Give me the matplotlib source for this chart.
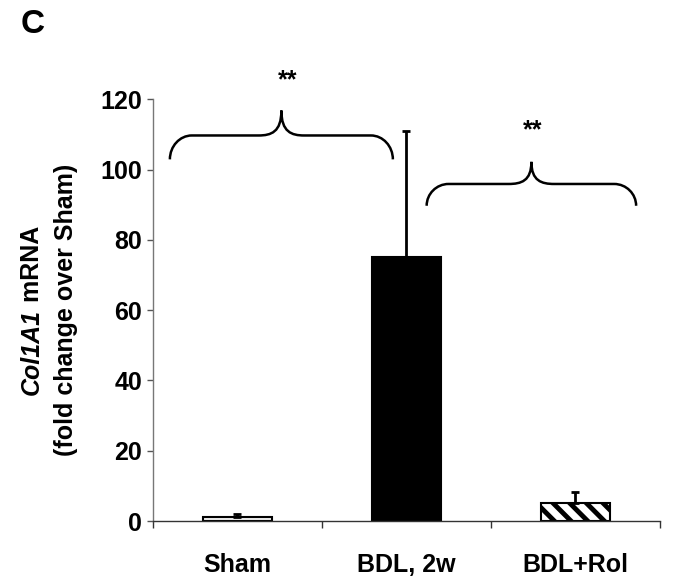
import matplotlib
matplotlib.use("Agg")
import matplotlib.pyplot as plt
from matplotlib.path import Path
from matplotlib.patches import PathPatch
import numpy as np

categories = ["Sham", "BDL, 2w", "BDL+Rol"]
values = [1.2, 75.0, 5.2]
errors = [0.7, 36.0, 3.0]
yticks = [0, 20, 40, 60, 80, 100, 120]
star_labels = ["**", "**"]

plt.rcParams['font.family'] = ['Liberation Sans', 'DejaVu Sans']
plt.rcParams['font.weight'] = 'bold'
plt.rcParams['hatch.linewidth'] = 3.5

FS = 18

fig = plt.figure(figsize=(6.83, 5.85), dpi=100)
ax = fig.add_axes([0.224, 0.1094, 0.742, 0.7209])

x = np.arange(len(categories))
fills = ['#f0f0f0', 'black', 'white']
hatches = [None, None, '\\\\']
for i in range(len(categories)):
    ax.bar(x[i], values[i], width=0.405, color=fills[i], edgecolor='black',
           linewidth=1.5, hatch=hatches[i], zorder=2)
    ax.errorbar(x[i], values[i], yerr=[[0], [errors[i]]], fmt='none',
                ecolor='black', elinewidth=2, capsize=3, capthick=2, zorder=3)

ax.set_xlim(-0.5, 2.5)
ax.set_ylim(0, 120)
ax.set_yticks(yticks)
ax.set_yticklabels([str(t) for t in yticks], fontsize=FS, fontweight='bold')
ax.set_xticks(x)
ax.set_xticklabels(categories, fontsize=FS, fontweight='bold')
ax.tick_params(axis='x', which='major', length=0, pad=23)
ax.set_xticks([-0.5, 0.5, 1.5, 2.5], minor=True)
ax.tick_params(axis='x', which='minor', length=5, direction='out', color='#333333', width=1)
ax.tick_params(axis='y', length=4, direction='out', pad=4, color='#555555', width=1)
for s in ['top', 'right']:
    ax.spines[s].set_visible(False)
ax.spines['left'].set_color('#777777')
ax.spines['bottom'].set_color('#333333')
ax.spines['left'].set_linewidth(1)
ax.spines['bottom'].set_linewidth(1)

# y label: two lines, first with italic gene name
fig.canvas.draw()
renderer = fig.canvas.get_renderer()
ycenter_fig = 0.1094 + 0.7209 / 2
t_it = fig.text(0, 0, "Col1A1", fontsize=FS, fontweight='bold', fontstyle='italic',
                rotation=90)
t_rm = fig.text(0, 0, " mRNA", fontsize=FS, fontweight='bold', rotation=90)
h_it = t_it.get_window_extent(renderer).height
h_rm = t_rm.get_window_extent(renderer).height
H = fig.get_size_inches()[1] * fig.dpi
total = h_it + h_rm
start = ycenter_fig * H - total / 2
x1 = 32 / 683
t_it.set_position((x1, start / H))
t_it.set_ha('center'); t_it.set_va('bottom')
t_rm.set_position((x1, (start + h_it) / H))
t_rm.set_ha('center'); t_rm.set_va('bottom')
fig.text(66 / 683, ycenter_fig, "(fold change over Sham)", fontsize=FS,
         fontweight='bold', rotation=90, ha='center', va='center')


def brace(ax, x0, x1, ytip, yflat, ypeak, dx1=0.13, dx2=0.135, k=0.55):
    xc = (x0 + x1) / 2
    verts = [
        (x0, ytip),
        (x0, ytip + k * (yflat - ytip)), (x0 + dx1 * (1 - k), yflat), (x0 + dx1, yflat),
        (xc - dx2, yflat),
        (xc - dx2 * (1 - k), yflat), (xc, yflat + (1 - k) * (ypeak - yflat) * 0.3), (xc, ypeak),
        (xc, yflat + (1 - k) * (ypeak - yflat) * 0.3), (xc + dx2 * (1 - k), yflat), (xc + dx2, yflat),
        (x1 - dx1, yflat),
        (x1 - dx1 * (1 - k), yflat), (x1, ytip + k * (yflat - ytip)), (x1, ytip),
    ]
    codes = [Path.MOVETO,
             Path.CURVE4, Path.CURVE4, Path.CURVE4,
             Path.LINETO,
             Path.CURVE4, Path.CURVE4, Path.CURVE4,
             Path.CURVE4, Path.CURVE4, Path.CURVE4,
             Path.LINETO,
             Path.CURVE4, Path.CURVE4, Path.CURVE4]
    p = PathPatch(Path(verts, codes), fill=False, edgecolor='black', lw=1.8,
                  clip_on=False, zorder=4)
    ax.add_patch(p)

brace(ax, -0.40, 0.92, 102.9, 109.7, 116.8)
brace(ax, 1.12, 2.36, 89.7, 95.9, 102.2)

ax.text(0.30, 125.5, star_labels[0], ha='center', va='center', fontsize=18,
        fontweight='bold', clip_on=False)
ax.text(1.75, 111.3, star_labels[1], ha='center', va='center', fontsize=18,
        fontweight='bold', clip_on=False)

fig.text(0.030, 0.958, "C", fontsize=24, fontweight='bold', ha='left', va='center')

fig.savefig("out.png", dpi=100)
